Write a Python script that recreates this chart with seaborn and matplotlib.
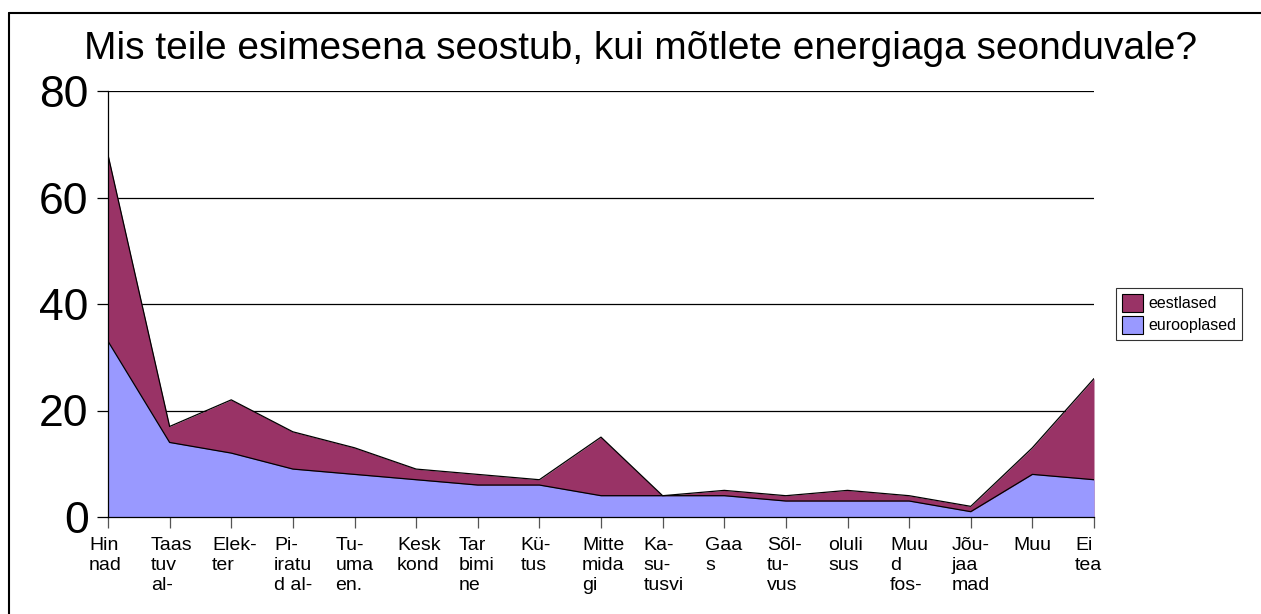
import matplotlib
matplotlib.use("Agg")
import matplotlib.pyplot as plt
import matplotlib.transforms as mtransforms
from matplotlib.lines import Line2D
from matplotlib.patches import Patch
import seaborn as sns
import pandas as pd

title = "Mis teile esimesena seostub, kui mõtlete energiaga seonduvale?"
categories = ["Hin\nnad", "Taas\ntuv\nal-", "Elek-\nter", "Pi-\niratu\nd al-", "Tu-\numa\nen.",
              "Kesk\nkond", "Tar\nbimi\nne", "Kü-\ntus", "Mitte\nmida\ngi", "Ka-\nsu-\ntusvi",
              "Gaa\ns", "Sõl-\ntu-\nvus", "oluli\nsus", "Muu\nd\nfos-", "Jõu-\njaa\nmad",
              "Muu", "Ei\ntea"]
eestlased = [68, 17, 22, 16, 13, 9, 8, 7, 15, 4, 5, 4, 5, 4, 2, 13, 26]
eurooplased = [33, 14, 12, 9, 8, 7, 6, 6, 4, 4, 4, 3, 3, 3, 1, 8, 7]
series_names = ["eestlased", "eurooplased"]
colors = ["#993366", "#9999FF"]
yticks = [0, 20, 40, 60, 80]

sns.set_theme(style="white")
plt.rcParams["font.family"] = ["Liberation Sans", "DejaVu Sans"]
plt.rcParams["text.color"] = "black"
plt.rcParams["xtick.color"] = "black"
plt.rcParams["ytick.color"] = "black"

df = pd.DataFrame({"x": list(range(len(categories))) * 2,
                   "value": eestlased + eurooplased,
                   "series": [series_names[0]] * len(categories) + [series_names[1]] * len(categories)})

fig = plt.figure(figsize=(12.61, 6.14), dpi=100)
ax = fig.add_axes([108 / 1261, 97 / 614, (1094 - 108) / 1261, (517 - 91) / 614])

for name, col in zip(series_names, colors):
    sub = df[df["series"] == name]
    ax.fill_between(sub["x"], 0, sub["value"], color=col, zorder=2, linewidth=0)
    sns.lineplot(data=sub, x="x", y="value", ax=ax, color="black", linewidth=0.9,
                 zorder=3, legend=False)

ax.set_xlim(0, len(categories) - 1)
ax.set_ylim(0, 80)
ax.set_yticks(yticks)
ax.set_yticklabels([str(v) for v in yticks], fontsize=32, color="black")
ax.set_xticks(range(len(categories)))
ax.set_xticklabels([])

trans = mtransforms.blended_transform_factory(ax.transData, ax.transAxes) + \
    mtransforms.ScaledTranslation(-19 / 100, -20 / 100, fig.dpi_scale_trans)
for i, lab in enumerate(categories):
    ax.text(i, 0, lab, transform=trans, ha="left", va="top", fontsize=14,
            linespacing=1.22, color="black")

ax.set_xlabel("")
ax.set_ylabel("")
ax.grid(False)
for v in yticks[1:]:
    ax.axhline(v, color="black", linewidth=0.9, zorder=1)

for s in ["top", "right"]:
    ax.spines[s].set_visible(False)
for s in ["left", "bottom"]:
    ax.spines[s].set_color("black")
    ax.spines[s].set_linewidth(0.9)
    ax.spines[s].set_zorder(4)

ax.tick_params(axis="y", direction="out", length=8, width=0.9, color="black", pad=6, left=True)
ax.tick_params(axis="x", direction="out", length=8, width=0.9, color="#555555", bottom=True)

fig.text(641 / 1261, 1 - 49 / 614, title, ha="center", va="center", fontsize=28, color="black")

handles = [Patch(facecolor=c, edgecolor="black", linewidth=0.8, label=n) for n, c in zip(series_names, colors)]
leg = fig.legend(handles=handles, loc="center left", bbox_to_anchor=(1116 / 1261, 1 - 314 / 614),
                 fontsize=11.5, frameon=True, fancybox=False, borderpad=0.4, borderaxespad=0,
                 handlelength=1.3, handleheight=1.3, handletextpad=0.3, labelspacing=0.3)
leg.get_frame().set_edgecolor("black")
leg.get_frame().set_linewidth(0.8)
for t in leg.get_texts():
    t.set_color("black")

fig.add_artist(Line2D([9 / 1261, 9 / 1261], [0, 1 - 13 / 614], color="black", linewidth=1.5))
fig.add_artist(Line2D([9 / 1261, 1], [1 - 13 / 614, 1 - 13 / 614], color="black", linewidth=1.5))

fig.savefig("out.png", dpi=100)
